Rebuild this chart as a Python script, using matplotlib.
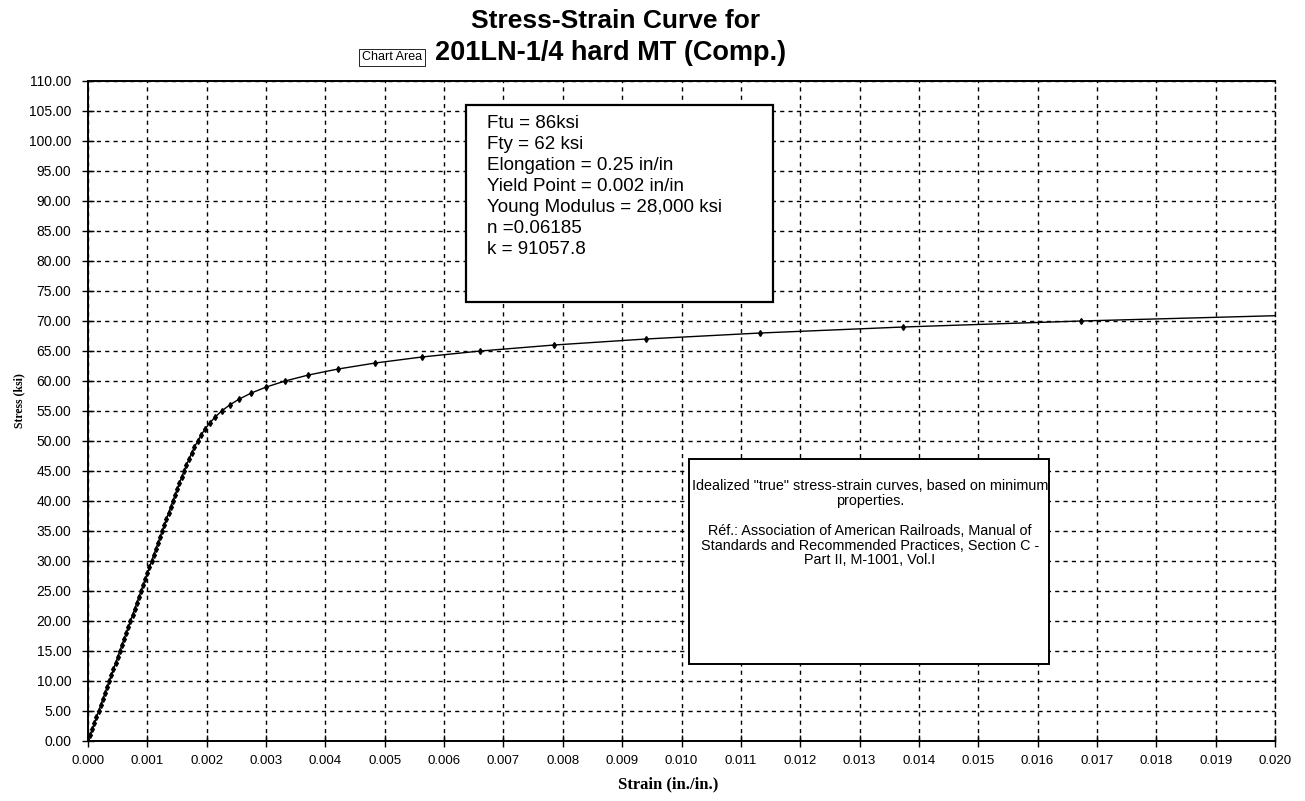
import matplotlib
matplotlib.use("Agg")
import matplotlib.pyplot as plt
from matplotlib.patches import Rectangle

# Data (stress in ksi, strain in in./in.)
stress = [0, 1, 2, 3, 4, 5, 6, 7, 8, 9, 10, 11, 12, 13, 14, 15, 16, 17, 18, 19,
          20, 21, 22, 23, 24, 25, 26, 27, 28, 29, 30, 31, 32, 33, 34, 35, 36, 37,
          38, 39, 40, 41, 42, 43, 44, 45, 46, 47, 48, 49, 50, 51, 52, 53, 54, 55,
          56, 57, 58, 59, 60, 61, 62, 63, 64, 65, 66, 67, 68, 69, 70, 71]
strain = [0.0, 0.0000357, 0.0000714, 0.000107, 0.000143, 0.000179, 0.000214,
          0.00025, 0.000286, 0.000321, 0.000357, 0.000393, 0.000429, 0.000464,
          0.0005, 0.000536, 0.000571, 0.000607, 0.000643, 0.000679, 0.000714,
          0.00075, 0.000786, 0.000821, 0.000857, 0.000893, 0.000929, 0.000964,
          0.001, 0.001036, 0.001071, 0.001107, 0.001143, 0.001179, 0.001214,
          0.00125, 0.001286, 0.001321, 0.001357, 0.001393, 0.00143, 0.001467,
          0.001504, 0.001541, 0.001579, 0.001618, 0.001659, 0.001702, 0.001746,
          0.001794, 0.00185, 0.001906, 0.001973, 0.002051, 0.002143, 0.002252,
          0.002386, 0.00255, 0.002752, 0.003004, 0.003321, 0.003715, 0.004214,
          0.00484, 0.005626, 0.006611, 0.007857, 0.0094, 0.01133, 0.01374,
          0.01673, 0.02044]

x_ticks = [i / 1000 for i in range(0, 21)]
x_tick_labels = ["%.3f" % v for v in x_ticks]
y_ticks = list(range(0, 111, 5))
y_tick_labels = ["%.2f" % v for v in y_ticks]

title_line1 = "Stress-Strain Curve for"
title_line2 = "201LN-1/4 hard MT (Comp.)"
props_text = ("Ftu = 86ksi\nFty = 62 ksi\nElongation = 0.25 in/in\n"
              "Yield Point = 0.002 in/in\nYoung Modulus = 28,000 ksi\n"
              "n =0.06185\nk = 91057.8")
note_para1 = ("Idealized \"true\" stress-strain curves, based on minimum\n"
              "properties.")
note_para2 = ("Réf.: Association of American Railroads, Manual of\n"
              "Standards and Recommended Practices, Section C -\n"
              "Part II, M-1001, Vol.I")

plt.rcParams['font.family'] = ['Liberation Sans', 'DejaVu Sans']

W, H = 1305, 801
fig = plt.figure(figsize=(W / 100, H / 100), dpi=100)
fig.patch.set_facecolor('white')
ax = fig.add_axes([88 / W, 1 - 741 / H, (1275 - 88) / W, (741 - 81) / H])

ax.plot(strain, stress, color='black', linewidth=1.0, marker='d',
        markersize=3.0, markerfacecolor='black', markeredgecolor='black',
        clip_on=True, zorder=3)

ax.set_xlim(0, 0.020)
ax.set_ylim(0, 110)
ax.set_xticks(x_ticks)
ax.set_xticklabels(x_tick_labels, fontsize=9.5)
ax.set_yticks(y_ticks)
ax.set_yticklabels(y_tick_labels, fontsize=10)
ax.tick_params(axis='both', direction='inout', length=8, width=1, colors='black')
ax.tick_params(axis='x', pad=6)
ax.tick_params(axis='y', pad=8)

ax.grid(True, color='black', linestyle=(0, (3, 3)), linewidth=1.0)
for s in ['left', 'bottom', 'top']:
    ax.spines[s].set_linewidth(1.4)
    ax.spines[s].set_color('black')
ax.spines['right'].set_linestyle((0, (3, 3)))
ax.spines['right'].set_linewidth(1.0)

ax.set_xlabel("Strain (in./in.)", fontsize=12, fontweight='bold',
              family=['Liberation Serif', 'DejaVu Serif'])
ax.xaxis.set_label_coords((668 - 88) / (1275 - 88), -(776 - 741) / (741 - 81))
ax.set_ylabel("Stress (ksi)", fontsize=8.5, fontweight='bold',
              family=['Liberation Serif', 'DejaVu Serif'])
ax.yaxis.set_label_coords(-(88 - 25) / (1275 - 88), (741 - 401) / (741 - 81))

# Titles
fig.text(616 / W, 1 - 21 / H, title_line1, ha='center', va='center',
         fontsize=19, fontweight='bold')
fig.text(611 / W, 1 - 53 / H, title_line2, ha='center', va='center',
         fontsize=19.5, fontweight='bold')
fig.text(392 / W, 1 - 57 / H, "Chart Area", ha='center', va='center',
         fontsize=9,
         bbox=dict(boxstyle='square,pad=0.2', facecolor='white',
                   edgecolor='black', linewidth=0.6))

# Property box
x0, y0, x1, y1 = 466, 105, 773, 302
fig.patches.append(Rectangle((x0 / W, 1 - y1 / H), (x1 - x0) / W, (y1 - y0) / H,
                             transform=fig.transFigure, facecolor='white',
                             edgecolor='black', linewidth=1.6, zorder=5))
fig.text(487 / W, 1 - 115 / H, props_text, ha='left', va='top', fontsize=13.5,
         linespacing=1.31, zorder=6)

# Note box
x0, y0, x1, y1 = 689, 459, 1049, 664
fig.patches.append(Rectangle((x0 / W, 1 - y1 / H), (x1 - x0) / W, (y1 - y0) / H,
                             transform=fig.transFigure, facecolor='white',
                             edgecolor='black', linewidth=1.4, zorder=5))
fig.text(870 / W, 1 - 479 / H, note_para1, ha='center', va='top', fontsize=10.4,
         linespacing=1.05, zorder=6)
fig.text(870 / W, 1 - 524 / H, note_para2, ha='center', va='top', fontsize=10.4,
         linespacing=1.05, zorder=6)

fig.savefig("out.png", dpi=100, facecolor='white')
